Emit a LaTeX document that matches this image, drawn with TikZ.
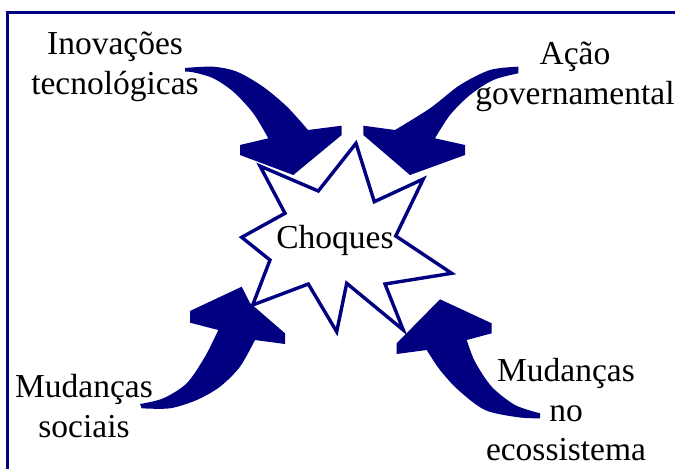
\documentclass[tikz,border=0pt]{standalone}
\usepackage{fontspec}
\setmainfont{Liberation Serif}
\definecolor{navyc}{RGB}{0,0,128}
\begin{document}
\begin{tikzpicture}[x=1pt,y=-1pt,
  lbl/.style={font=\fontsize{33.5}{39.5}\selectfont, align=center, inner sep=0pt, text=black},
  arrowshape/.style={fill=navyc},
  starshape/.style={draw=navyc, line width=3.4pt, fill=white, line join=miter}]
\useasboundingbox (0,0) rectangle (675,469);
% frame
\draw[navyc, line width=3pt] (7,469) -- (7,12) -- (675,12);
% upper-left arrow
\fill[arrowshape] plot[smooth] coordinates {(185,68) (213,66.7) (237,71.7) (263,86.7) (287,106.7) (308,130)}
  -- (341.7,125.7) -- (341.7,135) -- (293.3,175) -- (240,155) -- (240,145)
  -- plot[smooth] coordinates {(268.3,138.3) (253.3,113.3) (233.3,91.7) (213.3,78.3) (193.3,72.3) (185,71.7)} -- cycle;
% upper-right arrow
\fill[arrowshape] plot[smooth] coordinates {(518.3,66.7) (490,70) (460,85) (430,108.3) (395,130)}
  -- (363.3,125.7) -- (363.3,135) -- (410,175) -- (465,155) -- (465,145)
  -- plot[smooth] coordinates {(435,138.3) (450,115) (470,95) (493.3,80) (518.3,73.3)} -- cycle;
% lower-left arrow
\fill[arrowshape] plot[smooth] coordinates {(140,404) (163.3,398.3) (186.7,383.3) (205,356.7) (218.3,330)}
  -- (190,322.7) -- (190,311) -- (241.7,286.7) -- (250,303) -- (285,333.3) -- (285,344)
  -- plot[smooth] coordinates {(255,340) (240,366.7) (220,386.7) (196.7,400) (170,408.3) (141.7,408.3)} -- cycle;
% lower-right arrow
\fill[arrowshape] plot[smooth] coordinates {(540,413.3) (515,405) (491.7,386.7) (475,361.7) (466.7,340)}
  -- (491.7,333.3) -- (491.7,323.3) -- (440,299.3) -- (396.7,343.3) -- (396.7,354)
  -- plot[smooth] coordinates {(426.7,350) (440,370) (458.3,390) (485,410) (518.3,417.3) (540,418.3)} -- cycle;
% star
\draw[starshape] (356,143.3) -- (374.3,201.7) -- (423.3,179) -- (395.7,236) -- (451.7,273.3)
  -- (385,284) -- (403.3,330) -- (346.7,283.3) -- (336.7,331.7) -- (308.3,284)
  -- (252.7,305) -- (270,260) -- (241.7,237.3) -- (285,213.3) -- (260,166)
  -- (318.3,191) -- cycle;
% labels
\node[lbl] (choq) at (335,240) {Choques};
\node[lbl] (inov) at (115,67) {Inovações\\tecnológicas};
\node[lbl] (acao) at (575,77) {Ação\\governamental};
\node[lbl] (soc) at (84,406) {Mudanças\\sociais};
\node[lbl] (eco) at (566,410) {Mudanças\\no\\ecossistema};
\end{tikzpicture}
\end{document}
